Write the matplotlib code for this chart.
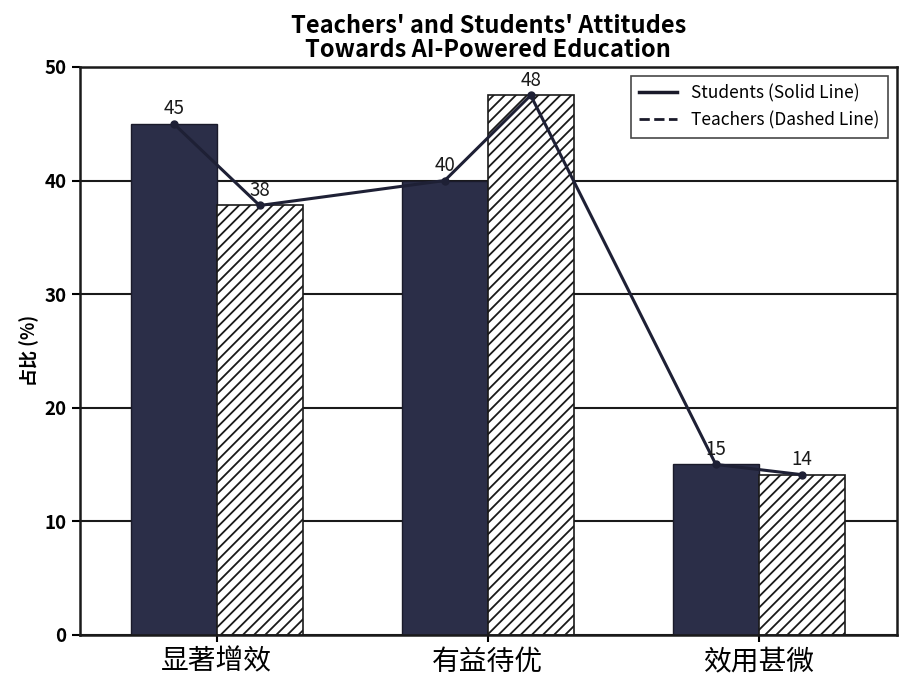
import matplotlib.pyplot as plt
import numpy as np

plt.rcParams['font.family'] = ['Noto Sans CJK SC', 'DejaVu Sans']
plt.rcParams['hatch.linewidth'] = 1.3

categories = ['显著增效', '有益待优', '效用甚微']
students = [45, 40, 15]
teachers = [37.8, 47.5, 14.1]

x = np.arange(len(categories))
w = 0.317

fig, ax = plt.subplots(figsize=(9.07, 6.9), dpi=100)
ax.set_axisbelow(True)
ax.yaxis.grid(True, color='#1a1a1a', linewidth=1.5)

ax.bar(x - w / 2, students, w, color='#2b2e48', edgecolor='#1a1a2a', linewidth=1, zorder=2)
ax.bar(x + w / 2, teachers, w, color='white', edgecolor='#1a1a1a', hatch='///', linewidth=1.2, zorder=2)

# zigzag line through all bar tops
px, py = [], []
for i in range(len(categories)):
    px += [x[i] - w / 2, x[i] + w / 2]
    py += [students[i], teachers[i]]
ax.plot(px, py, color='#1e2035', linewidth=2.2, marker='o', markersize=5, zorder=3)
for a, b in zip(px, py):
    ax.text(a, b + 0.4, f'{b:.0f}', ha='center', va='bottom', fontsize=13.5, color='#1a1a1a',
            fontweight='medium', zorder=4)

h1, = ax.plot([], [], color='#1a1a2a', linewidth=2.5, label='Students (Solid Line)')
h2, = ax.plot([], [], color='#1a1a2a', linewidth=2, linestyle='--', label='Teachers (Dashed Line)')
ax.legend(handles=[h1, h2], loc='upper right', fontsize=12.5, frameon=True, fancybox=False,
          edgecolor='#1a1a1a', borderpad=0.5, handlelength=2.2).get_frame().set_linewidth(1.2)

ax.set_xlim(-0.505, 2.51)
ax.set_ylim(0, 50)
ax.set_yticks([0, 10, 20, 30, 40, 50])
ax.set_xticks(x)
ax.set_xticklabels(categories, fontsize=20)
ax.tick_params(axis='y', labelsize=13.5, width=1.5, length=6)
ax.tick_params(axis='x', width=1.5, length=5)
for lbl in ax.get_yticklabels():
    lbl.set_fontweight('bold')
ax.set_ylabel('占比 (%)', fontsize=13, fontweight='bold')
ax.set_title("Teachers' and Students' Attitudes\nTowards AI-Powered Education",
             fontsize=17, fontweight='bold', linespacing=1.0, pad=7)
for s in ax.spines.values():
    s.set_linewidth(1.8)
    s.set_color('#1a1a1a')

fig.subplots_adjust(left=0.088, right=0.989, top=0.903, bottom=0.08)
fig.savefig('out.png', dpi=100)
